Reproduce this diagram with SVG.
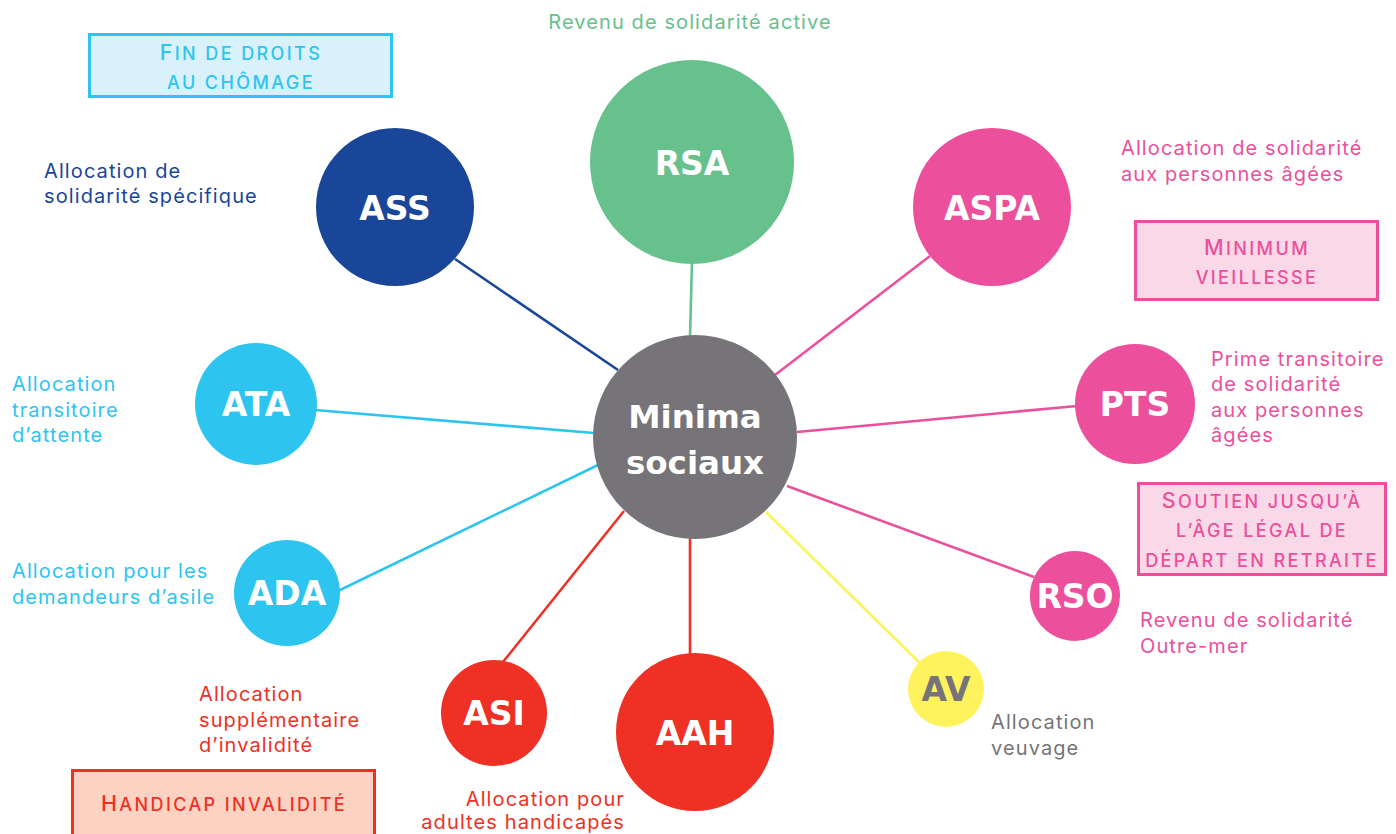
<svg xmlns="http://www.w3.org/2000/svg" width="1396" height="834" viewBox="0 0 1396 834">
  <style>
    .lbl { font-family: Inter, "Liberation Sans", sans-serif; font-size: 20px; letter-spacing: 1.1px; }
    .abbr { font-family: "DejaVu Sans", "Liberation Sans", sans-serif; font-size: 33px; font-weight: 700; fill: #ffffff; text-anchor: middle; }
    .mid { font-size: 32.5px; }
    .box { stroke-width: 3; }
    /* small-caps headings: initial capital larger, the rest in reduced capitals */
    .cap { font-family: Inter, "Liberation Sans", sans-serif; font-size: 18px; font-weight: 500; letter-spacing: 2.4px; text-anchor: middle; }
    .cap tspan { font-size: 21.5px; }
    .link { stroke-width: 2.6; fill: none; }
    .blue-d { fill: #1a4699; }
    .green { fill: #66c18c; }
    .pink { fill: #ec4f9b; }
    .blue-l { fill: #2dc5f0; }
    .red { fill: #ee3124; }
    .grey { fill: #767478; }
  </style>
  <rect width="1396" height="834" fill="#ffffff"/>

  <!-- spokes from the central node -->
  <g id="connectors">
    <line class="link" x1="618" y1="370" x2="455" y2="259" stroke="#1a4699"/>
    <line class="link" x1="690" y1="337" x2="692" y2="262" stroke="#66c18c"/>
    <line class="link" x1="775" y1="375" x2="930" y2="256" stroke="#ec4f9b"/>
    <line class="link" x1="594" y1="433" x2="315" y2="410" stroke="#2dc5f0"/>
    <line class="link" x1="797" y1="432" x2="1077" y2="406" stroke="#ec4f9b"/>
    <line class="link" x1="598" y1="465" x2="338" y2="591" stroke="#2dc5f0"/>
    <line class="link" x1="787" y1="486" x2="1034" y2="577" stroke="#ec4f9b"/>
    <line class="link" x1="766" y1="512" x2="921" y2="664" stroke="#fef35d"/>
    <line class="link" x1="690" y1="538" x2="690" y2="655" stroke="#ee3124"/>
    <line class="link" x1="624" y1="511" x2="503" y2="662" stroke="#ee3124"/>
  </g>

  <g id="center">
    <circle cx="695" cy="437" r="102" fill="#767478"/>
    <text class="abbr mid" x="695" y="428">Minima</text>
    <text class="abbr mid" x="695" y="474">sociaux</text>
  </g>

  <g id="rsa">
    <text class="lbl green" x="690" y="29" text-anchor="middle">Revenu de solidarité active</text>
    <circle cx="692" cy="162" r="102" fill="#66c18c"/>
    <text class="abbr" x="692" y="175">RSA</text>
  </g>

  <g id="ass">
    <rect class="box" x="89.5" y="34.5" width="302" height="62" fill="#d9f1fb" stroke="#2dc5f0"/>
    <text class="cap blue-l" x="241" y="60"><tspan>F</tspan>IN DE DROITS</text>
    <text class="cap blue-l" x="241" y="89">AU CHÔMAGE</text>
    <text class="lbl blue-d" x="44" y="178">Allocation de</text>
    <text class="lbl blue-d" x="44" y="203">solidarité spécifique</text>
    <circle cx="395" cy="207" r="79" fill="#1a4699"/>
    <text class="abbr" x="395" y="220">ASS</text>
  </g>

  <g id="aspa">
    <text class="lbl pink" x="1121" y="155">Allocation de solidarité</text>
    <text class="lbl pink" x="1121" y="181">aux personnes âgées</text>
    <rect class="box" x="1135.5" y="221.5" width="242" height="78" fill="#f9d9e8" stroke="#ec4f9b"/>
    <text class="cap pink" x="1257" y="255"><tspan>M</tspan>INIMUM</text>
    <text class="cap pink" x="1257" y="284">VIEILLESSE</text>
    <circle cx="992" cy="207" r="79" fill="#ec4f9b"/>
    <text class="abbr" x="992" y="220">ASPA</text>
  </g>

  <g id="ata">
    <text class="lbl blue-l" x="12" y="391">Allocation</text>
    <text class="lbl blue-l" x="12" y="417">transitoire</text>
    <text class="lbl blue-l" x="12" y="442">d’attente</text>
    <circle cx="256" cy="404" r="61" fill="#2dc5f0"/>
    <text class="abbr" x="256" y="416">ATA</text>
  </g>

  <g id="pts">
    <circle cx="1135" cy="404" r="60" fill="#ec4f9b"/>
    <text class="abbr" x="1135" y="416">PTS</text>
    <text class="lbl pink" x="1211" y="366">Prime transitoire</text>
    <text class="lbl pink" x="1211" y="391">de solidarité</text>
    <text class="lbl pink" x="1211" y="417">aux personnes</text>
    <text class="lbl pink" x="1211" y="442">âgées</text>
  </g>

  <g id="ada">
    <text class="lbl blue-l" x="12" y="578">Allocation pour les</text>
    <text class="lbl blue-l" x="12" y="604">demandeurs d’asile</text>
    <circle cx="287" cy="593" r="53" fill="#2dc5f0"/>
    <text class="abbr" x="287" y="605">ADA</text>
  </g>

  <g id="rso">
    <rect class="box" x="1138.5" y="483.5" width="247" height="91" fill="#f9d9e8" stroke="#ec4f9b"/>
    <text class="cap pink" x="1262" y="508"><tspan>S</tspan>OUTIEN JUSQU’À</text>
    <text class="cap pink" x="1262" y="537">L’ÂGE LÉGAL DE</text>
    <text class="cap pink" x="1262" y="567">DÉPART EN RETRAITE</text>
    <circle cx="1075" cy="596" r="45" fill="#ec4f9b"/>
    <text class="abbr" x="1075" y="608">RSO</text>
    <text class="lbl pink" x="1140" y="627">Revenu de solidarité</text>
    <text class="lbl pink" x="1140" y="653">Outre-mer</text>
  </g>

  <g id="av">
    <circle cx="946" cy="689" r="38" fill="#fef35d"/>
    <text class="abbr" x="946" y="701" style="fill:#767478">AV</text>
    <text class="lbl grey" x="991" y="729">Allocation</text>
    <text class="lbl grey" x="991" y="755">veuvage</text>
  </g>

  <g id="aah">
    <circle cx="695" cy="732" r="79" fill="#ee3124"/>
    <text class="abbr" x="695" y="745">AAH</text>
    <text class="lbl red" x="625" y="806" text-anchor="end">Allocation pour</text>
    <text class="lbl red" x="625" y="829" text-anchor="end">adultes handicapés</text>
  </g>

  <g id="asi">
    <text class="lbl red" x="199" y="701">Allocation</text>
    <text class="lbl red" x="199" y="727">supplémentaire</text>
    <text class="lbl red" x="199" y="752">d’invalidité</text>
    <rect class="box" x="72.5" y="770.5" width="302" height="66" fill="#fcd3c3" stroke="#ee3124"/>
    <text class="cap red" x="224" y="811"><tspan>H</tspan>ANDICAP INVALIDITÉ</text>
    <circle cx="494" cy="713" r="53" fill="#ee3124"/>
    <text class="abbr" x="494" y="725">ASI</text>
  </g>
</svg>
